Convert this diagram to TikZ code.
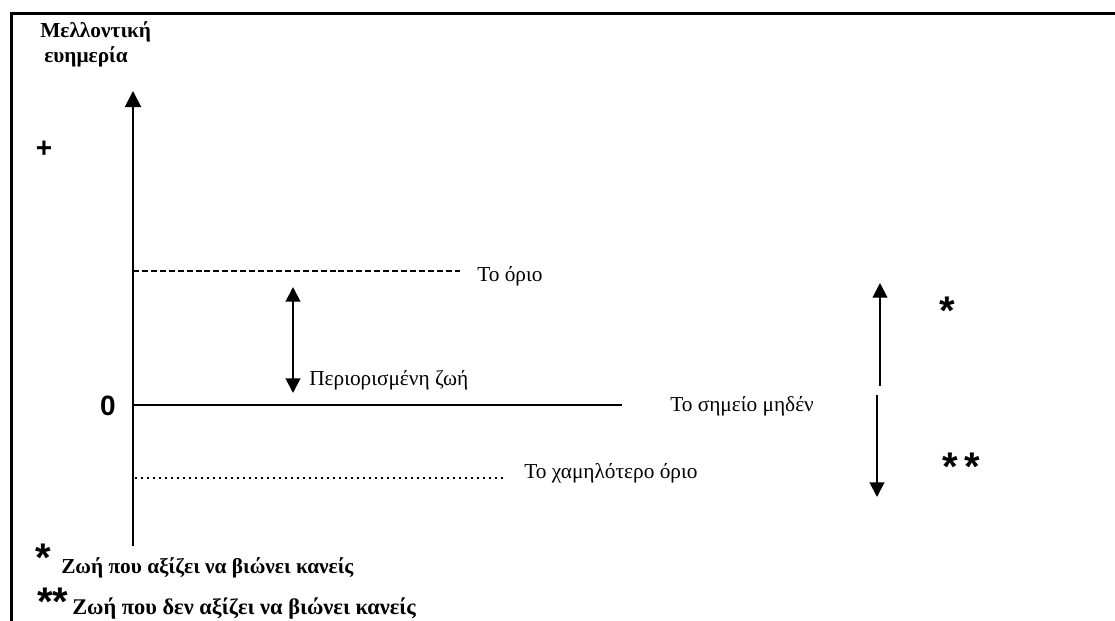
\documentclass[tikz,border=0pt]{standalone}
\usepackage{fontspec}
\setmainfont{Liberation Serif}
\newfontfamily\symfont{Liberation Sans}
\usetikzlibrary{arrows.meta}

\begin{document}
\begin{tikzpicture}[x=0.75pt,y=-0.75pt,
    axis/.style={line width=1.5pt,-{Triangle[length=12pt,width=12pt]}},
    updown/.style={line width=1.5pt,{Triangle[length=11pt,width=11pt]}-{Triangle[length=11pt,width=11pt]}},
    onearrow/.style={line width=1.5pt,-{Triangle[length=11pt,width=11pt]}},
    lbl/.style={font=\fontsize{16}{18}\selectfont,inner sep=0pt},
    note/.style={font=\fontsize{16}{18}\selectfont\bfseries,inner sep=0pt},
    sym/.style={font=\fontsize{21}{24}\selectfont\symfont\bfseries,inner sep=0pt},
    star/.style={font=\fontsize{30}{32}\selectfont\symfont\bfseries,inner sep=0pt}]
    \useasboundingbox (0,0) rectangle (1115,621);
    % frame
    \draw[line width=2.2pt] (11.5,621) -- (11.5,13.5) -- (1115,13.5);
    % axis
    \coordinate (axbot) at (133,546);
    \coordinate (axtop) at (133,91);
    \draw[axis] (axbot) -- (axtop);
    \node[note,anchor=base west] (title1) at (40,37) {Μελλοντική};
    \node[note,anchor=base west] (title2) at (44,62) {ευημερία};
    \node[sym] (plus) at (44,149) {+};
    \node[sym] (zero) at (108,406) {0};
    % the limit
    \coordinate (lim0) at (133,271);
    \coordinate (lim1) at (460,271);
    \draw[line width=1pt,dash pattern=on 4.5pt off 2.2pt] (lim0) -- (lim1);
    \node[lbl,anchor=base west] (limit) at (477,281) {Το όριο};
    % restricted life
    \coordinate (rl0) at (293,287);
    \coordinate (rl1) at (293,393);
    \draw[updown] (rl0) -- (rl1);
    \node[lbl,anchor=base west] (restr) at (309,385) {Περιορισμένη ζωή};
    % zero point
    \coordinate (z0) at (133,405);
    \coordinate (z1) at (622,405);
    \draw[line width=1.3pt] (z0) -- (z1);
    \node[lbl,anchor=base west] (zeropt) at (670,411) {Το σημείο μηδέν};
    % lower limit
    \coordinate (low0) at (135,478);
    \coordinate (low1) at (505,478);
    \draw[line width=1.5pt,dash pattern=on 1.5pt off 3pt] (low0) -- (low1);
    \node[lbl,anchor=base west] (lower) at (524,478) {Το χαμηλότερο όριο};
    % right arrows
    \coordinate (up0) at (880,386);
    \coordinate (up1) at (880,283);
    \draw[onearrow] (up0) -- (up1);
    \coordinate (dn0) at (877,395);
    \coordinate (dn1) at (877,497);
    \draw[onearrow] (dn0) -- (dn1);
    \node[star] (star1) at (947,311) {*};
    \node[star] (star2) at (961,467) {*\,*};
    % notes
    \node[star] (nstar1) at (43,558) {*};
    \node[note,anchor=base west] (note1) at (61,573) {Ζωή που αξίζει να βιώνει κανείς};
    \node[star] (nstar2) at (53,602) {**};
    \node[note,font=\fontsize{16.8}{18}\selectfont\bfseries,anchor=base west] (note2) at (72,614) {Ζωή που δεν αξίζει να βιώνει κανείς};
\end{tikzpicture}
\end{document}
